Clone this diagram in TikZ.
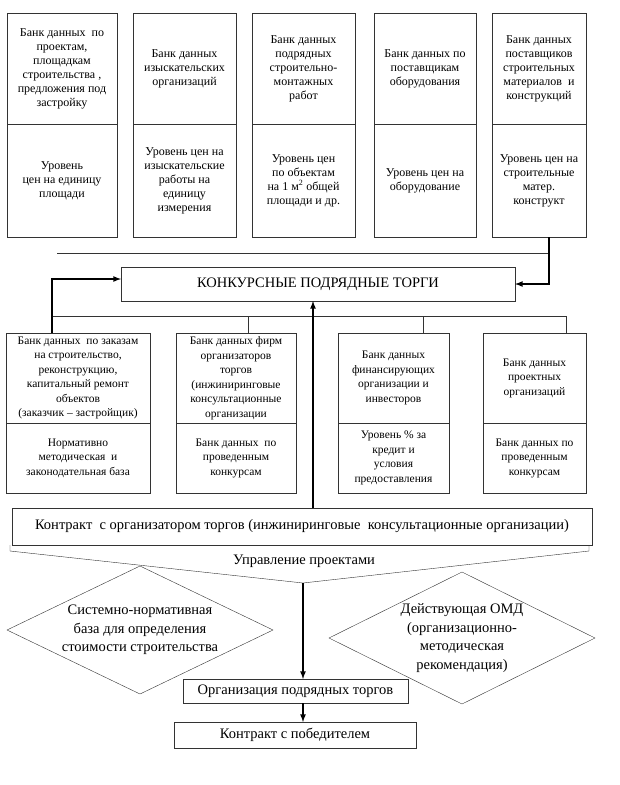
\documentclass[tikz,border=0pt]{standalone}
\usepackage{fontspec}
\setmainfont{Liberation Serif}
\usetikzlibrary{arrows,positioning,shapes.geometric}

\tikzset{
  cell/.style={draw=black!80, align=center, inner sep=1pt, outer sep=0pt,
    font=\fontsize{12}{14}\selectfont},
  midcell/.style={cell, font=\fontsize{11.5}{14.5}\selectfont},
  bigbox/.style={draw=black!80, align=center, inner sep=2pt, outer sep=0pt,
    font=\fontsize{14.5}{17}\selectfont},
  rhomb/.style={diamond, draw=black!80, aspect=2, inner sep=0pt, outer sep=0pt,
    align=center, font=\fontsize{14.5}{18.5}\selectfont},
  link/.style={draw=black!80},
  boldarrow/.style={->, line width=1.6pt},
}

\begin{document}
\begin{tikzpicture}[x=1pt, y=-1pt, >=latex]
\useasboundingbox (0,0) rectangle (619,785);

% верхний ряд банков данных
\node[cell, minimum width=110pt, minimum height=111pt] (b1u) at (62,68.5)
  {Банк данных~~по\\ проектам,\\ площадкам\\ строительства ,\\ предложения под\\ застройку};
\node[cell, minimum width=110pt, minimum height=113pt, below=0pt of b1u] (b1l)
  {Уровень\\ цен на единицу\\ площади};
\node[cell, minimum width=103pt, minimum height=111pt] (b2u) at (184.5,68.5)
  {Банк данных\\ изыскательских\\ организаций};
\node[cell, minimum width=103pt, minimum height=113pt, below=0pt of b2u] (b2l)
  {Уровень цен на\\ изыскательские\\ работы на\\ единицу\\ измерения};
\node[cell, minimum width=103pt, minimum height=111pt] (b3u) at (303.5,68.5)
  {Банк данных\\ подрядных\\ строительно-\\ монтажных\\ работ};
\node[cell, minimum width=103pt, minimum height=113pt, below=0pt of b3u] (b3l)
  {Уровень цен\\ по объектам\\ на 1 м\textsuperscript{2} общей\\ площади и др.};
\node[cell, minimum width=102pt, minimum height=111pt] (b4u) at (425,68.5)
  {Банк данных по\\ поставщикам\\ оборудования};
\node[cell, minimum width=102pt, minimum height=113pt, below=0pt of b4u] (b4l)
  {Уровень цен на\\ оборудование};
\node[cell, minimum width=94pt, minimum height=111pt] (b5u) at (539,68.5)
  {Банк данных\\ поставщиков\\ строительных\\ материалов~~и\\ конструкций};
\node[cell, minimum width=94pt, minimum height=113pt, below=0pt of b5u] (b5l)
  {Уровень цен на\\ строительные\\ матер.\\ конструкт};

% торги
\node[bigbox, minimum width=394pt, minimum height=34pt] (konk) at (318,284)
  {КОНКУРСНЫЕ ПОДРЯДНЫЕ ТОРГИ};

\coordinate (b5out) at ([xshift=10pt]b5l.south);
\coordinate (topline) at (57,253);
\draw[link] (topline) -- (topline -| b5out);
\draw[boldarrow] (b5out) |- (konk.east);

% средний ряд
\node[midcell, minimum width=144pt, minimum height=90pt] (m1u) at (78,378)
  {Банк данных~~по заказам\\ на строительство,\\ реконструкцию,\\ капитальный ремонт\\ объектов\\ (заказчик – застройщик)};
\node[midcell, minimum width=144pt, minimum height=70pt, below=0pt of m1u] (m1l)
  {Нормативно\\ методическая~~и\\ законодательная база};
\node[midcell, minimum width=120pt, minimum height=90pt] (m2u) at (236,378)
  {Банк данных фирм\\ организаторов\\ торгов\\ (инжиниринговые\\ консультационные\\ организации};
\node[midcell, minimum width=120pt, minimum height=70pt, below=0pt of m2u] (m2l)
  {Банк данных~~по\\ проведенным\\ конкурсам};
\node[midcell, minimum width=111pt, minimum height=90pt] (m3u) at (393.5,378)
  {Банк данных\\ финансирующих\\ организации и\\ инвесторов};
\node[midcell, minimum width=111pt, minimum height=70pt, below=0pt of m3u] (m3l)
  {Уровень \% за\\ кредит и\\ условия\\ предоставления};
\node[midcell, minimum width=103pt, minimum height=90pt] (m4u) at (534.5,378)
  {Банк данных\\ проектных\\ организаций};
\node[midcell, minimum width=103pt, minimum height=70pt, below=0pt of m4u] (m4l)
  {Банк данных по\\ проведенным\\ конкурсам};

\coordinate (bus) at (52,316);
\draw[link] (bus) -- ++(514,0);
\draw[boldarrow] ([xshift=-26pt]m1u.north) |- ([yshift=5pt]konk.west);
\foreach \b/\d in {m2u/12,m3u/29.5,m4u/31.5}
  \draw[link] ([xshift=\d pt]\b.north) -- ++(0,-17);

% контракт и управление проектами
\node[bigbox, minimum width=580pt, minimum height=37pt] (contr) at (302,526.5)
  {Контракт~~с организатором торгов (инжиниринговые~~консультационные организации)};
\coordinate (ax) at (313,0);
\draw[boldarrow] (contr.north -| ax) -- (konk.south -| ax);

\coordinate (vb) at (303,583);
\draw[link] (10,545) -- (10,551) -- (vb) -- (589,551) -- (589,545);
\node[font=\fontsize{14.5}{17}\selectfont] (upr) at (304,561) {Управление проектами};

\node[rhomb, minimum width=266pt, minimum height=128pt] (sys) at (140,630)
  {Системно-нормативная\\ база для определения\\ стоимости строительства};
\node[rhomb, minimum width=266pt, minimum height=132pt] (omd) at (462,638)
  {Действующая ОМД\\ (организационно-\\ методическая\\ рекомендация)};

% организация торгов
\node[bigbox, minimum width=225pt, minimum height=24pt] (org) at (295.5,691)
  {Организация подрядных торгов};
\node[bigbox, minimum width=242pt, minimum height=26pt] (win) at (295,735)
  {Контракт с победителем};
\draw[boldarrow] (vb) -- (vb |- org.north);
\draw[boldarrow] (org.south -| vb) -- (win.north -| vb);

\end{tikzpicture}
\end{document}
